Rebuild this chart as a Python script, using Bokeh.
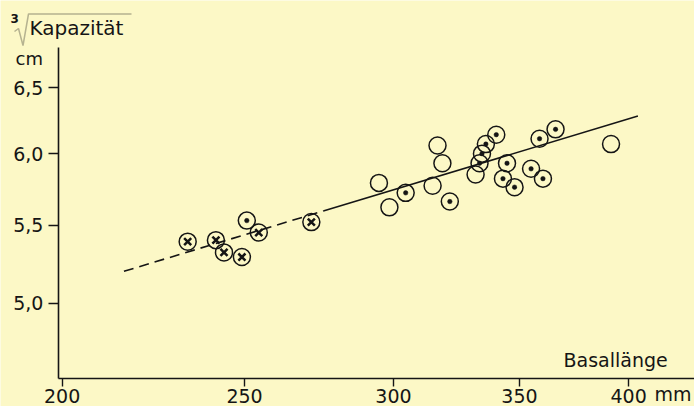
from bokeh.plotting import figure
from bokeh.models import Range1d, FixedTicker, Label, PolyAnnotation
from bokeh.embed import file_html
from bokeh.resources import INLINE

# ---- data ----
# circles with a cross
cross_len = [233.2, 241.4, 243.8, 249.2, 254.4, 271.3]
cross_cap = [5.39, 5.40, 5.32, 5.29, 5.45, 5.52]
# circles with a dot
dot_len = [250.7, 304.5, 321.4, 333.3, 334.3, 335.9, 340.2, 344.7, 343.0,
           347.9, 355.0, 360.2, 358.7, 365.8]
dot_cap = [5.53, 5.72, 5.66, 5.93, 6.00, 6.07, 6.14, 5.93, 5.82,
           5.76, 5.89, 5.82, 6.11, 6.18]
# open circles
open_len = [294.7, 298.5, 314.7, 316.6, 318.5, 331.7, 391.5]
open_cap = [5.79, 5.62, 5.77, 6.06, 5.93, 5.85, 6.07]
# regression line: dashed part and solid part
dash_len = [215.7, 275.3]
dash_cap = [5.199, 5.595]
solid_len = [275.3, 404.6]
solid_cap = [5.595, 6.281]

x_ticks = [200, 250, 300, 350, 400]
x_tick_labels = ["200", "250", "300", "350", "400"]
y_ticks = [5.0, 5.5, 6.0, 6.5]
y_tick_labels = ["5,0", "5,5", "6,0", "6,5"]

# axis extents (data units)
x_axis_start, x_axis_end = 199.08, 433.6
y_axis_start, y_axis_end = 4.562, 6.829

BG = "#FCF8C6"
INK = "#151515"
FONT = "DejaVu Sans"
W, H = 694, 406

p = figure(width=W, height=H, x_axis_type="log", y_axis_type="log",
           x_range=Range1d(185.46, 433.6), y_range=Range1d(4.4097, 7.230),
           output_backend="svg", toolbar_location=None,
           min_border_left=0, min_border_right=0, min_border_top=0,
           min_border_bottom=0)
p.background_fill_color = BG
p.border_fill_color = BG
p.outline_line_color = None
p.grid.visible = False

for ax in (p.xaxis[0], p.yaxis[0]):
    ax.axis_line_color = INK
    ax.axis_line_width = 1.6
    ax.major_tick_line_color = INK
    ax.major_tick_line_width = 1.4
    ax.major_tick_in = 0
    ax.minor_tick_line_color = None
    ax.major_label_text_font = FONT
    ax.major_label_text_font_size = "19px"
    ax.major_label_text_color = INK

xa = p.xaxis[0]
xa.ticker = FixedTicker(ticks=x_ticks, minor_ticks=[])
xa.major_label_overrides = {t: s for t, s in zip(x_ticks, x_tick_labels)}
xa.major_tick_out = 8
xa.major_label_standoff = 2
xa.fixed_location = y_axis_start
xa.bounds = (x_axis_start, x_axis_end)

ya = p.yaxis[0]
ya.ticker = FixedTicker(ticks=y_ticks, minor_ticks=[])
ya.major_label_overrides = {t: s for t, s in zip(y_ticks, y_tick_labels)}
ya.major_tick_out = 10
ya.major_label_standoff = 5
ya.fixed_location = x_axis_start
ya.bounds = (y_axis_start, y_axis_end)

# regression line
p.line(dash_len, dash_cap, line_color=INK, line_width=1.6, line_dash="10 6")
p.line(solid_len, solid_cap, line_color=INK, line_width=1.6)

# markers
ring = dict(size=17, fill_alpha=0, line_color=INK, line_width=1.5)
p.scatter(cross_len, cross_cap, marker="circle", **ring)
p.scatter(cross_len, cross_cap, marker="x", size=10, line_color=INK, line_width=2.5)
p.scatter(dot_len, dot_cap, marker="circle", **ring)
p.scatter(dot_len, dot_cap, marker="circle", size=4.5, fill_color=INK, line_color=INK, line_width=0.5)
p.scatter(open_len, open_cap, marker="circle", **ring)


def fy(py):
    return H - py


def add_label(text, px, baseline, fs=19, style="normal"):
    # empirical baseline correction for Label placement
    p.add_layout(Label(x=px, y=fy(baseline - 0.37 * fs), x_units="screen", y_units="screen",
                       text=text, text_font=FONT, text_font_size=f"{fs}px",
                       text_font_style=style, text_color=INK,
                       text_align="left", text_baseline="alphabetic"))


add_label("Kapazität", 29, 35, fs=20)
add_label("3", 10, 22, fs=12, style="bold")
add_label("cm", 15, 65, fs=18)
add_label("Basallänge", 563, 367)
add_label("mm", 654, 401)

# radical sign with its overline
rad_x = [14, 18, 22.5, 28, 131, 28, 22.5, 18]
rad_y = [31, 28, 45, 13.5, 13.5, 13.5, 45, 28]
p.add_layout(PolyAnnotation(xs=rad_x, ys=[fy(v) for v in rad_y],
                            xs_units="screen", ys_units="screen",
                            fill_alpha=0, line_color=INK, line_width=1.5))

open("out.html", "w").write(file_html(p, INLINE))
